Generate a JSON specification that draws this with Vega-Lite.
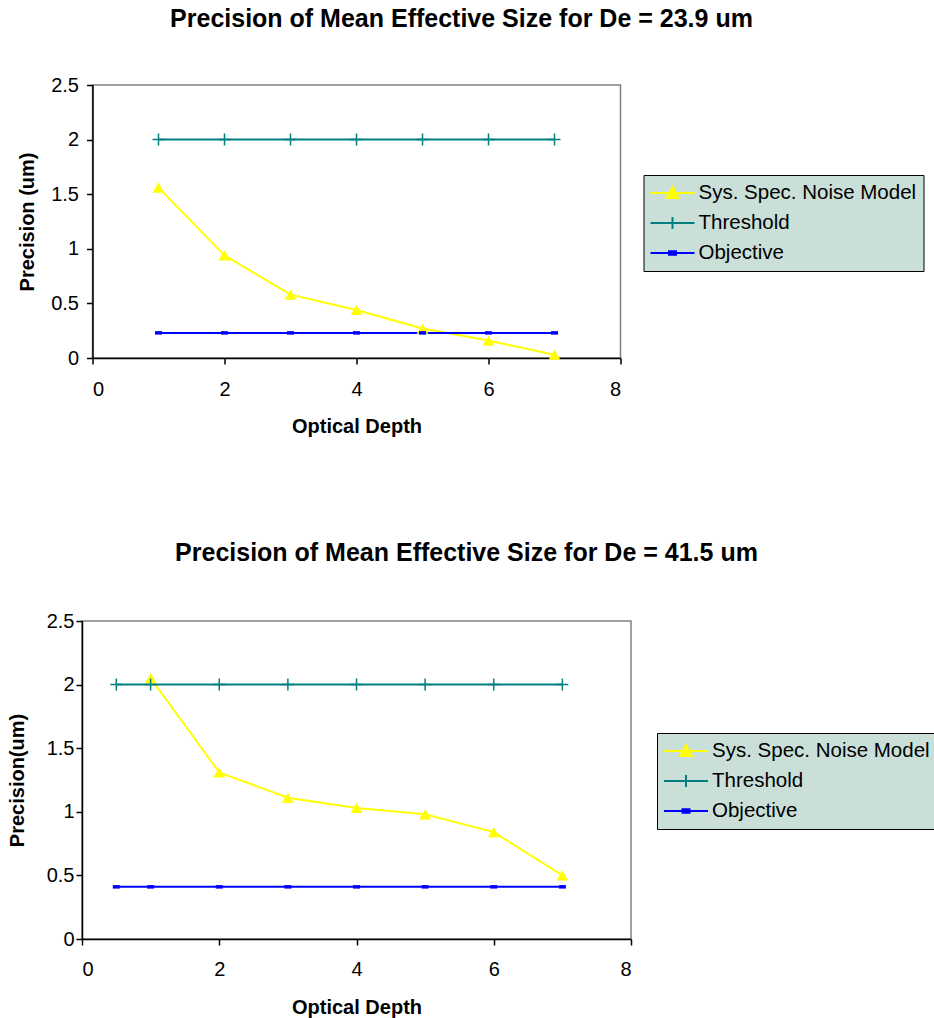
{
  "$schema": "https://vega.github.io/schema/vega-lite/v6.json",
  "background": "white",
  "padding": {"top": 6, "left": 6, "right": 0, "bottom": 0},
  "config": {
    "font": "Liberation Sans",
    "view": {"stroke": "#808080", "strokeWidth": 1.5},
    "axis": {"grid": false, "domainColor": "black", "domainWidth": 1.5, "tickColor": "black", "tickWidth": 1.5, "tickSize": 6, "labelFontSize": 20, "labelColor": "black", "titleFontSize": 20, "titleFontWeight": "bold", "titleColor": "black"},
    "legend": {"fillColor": "#c9dfd7", "strokeColor": "black", "strokeWidth": 1, "padding": 7, "labelFontSize": 20.5, "labelColor": "black", "labelLimit": 400, "symbolStrokeWidth": 2, "symbolSize": 400, "symbolOffset": 11, "labelOffset": 15, "rowPadding": 8},
    "title": {"fontSize": 25, "fontWeight": "bold", "color": "black", "anchor": "middle", "baseline": "alphabetic"}
  },
  "datasets": {
    "top": [
      {"series": "Sys. Spec. Noise Model", "x": 1, "y": 1.56},
      {"series": "Sys. Spec. Noise Model", "x": 2, "y": 0.94},
      {"series": "Sys. Spec. Noise Model", "x": 3, "y": 0.58},
      {"series": "Sys. Spec. Noise Model", "x": 4, "y": 0.44},
      {"series": "Sys. Spec. Noise Model", "x": 5, "y": 0.27},
      {"series": "Sys. Spec. Noise Model", "x": 6, "y": 0.16},
      {"series": "Sys. Spec. Noise Model", "x": 7, "y": 0.03},
      {"series": "Threshold", "x": 1, "y": 2},
      {"series": "Threshold", "x": 2, "y": 2},
      {"series": "Threshold", "x": 3, "y": 2},
      {"series": "Threshold", "x": 4, "y": 2},
      {"series": "Threshold", "x": 5, "y": 2},
      {"series": "Threshold", "x": 6, "y": 2},
      {"series": "Threshold", "x": 7, "y": 2},
      {"series": "Objective", "x": 1, "y": 0.23},
      {"series": "Objective", "x": 2, "y": 0.23},
      {"series": "Objective", "x": 3, "y": 0.23},
      {"series": "Objective", "x": 4, "y": 0.23},
      {"series": "Objective", "x": 5, "y": 0.23},
      {"series": "Objective", "x": 6, "y": 0.23},
      {"series": "Objective", "x": 7, "y": 0.23}
    ],
    "bottom": [
      {"series": "Sys. Spec. Noise Model", "x": 1, "y": 2.05},
      {"series": "Sys. Spec. Noise Model", "x": 2, "y": 1.31},
      {"series": "Sys. Spec. Noise Model", "x": 3, "y": 1.11},
      {"series": "Sys. Spec. Noise Model", "x": 4, "y": 1.03},
      {"series": "Sys. Spec. Noise Model", "x": 5, "y": 0.98},
      {"series": "Sys. Spec. Noise Model", "x": 6, "y": 0.84},
      {"series": "Sys. Spec. Noise Model", "x": 7, "y": 0.5},
      {"series": "Threshold", "x": 0.5, "y": 2},
      {"series": "Threshold", "x": 1, "y": 2},
      {"series": "Threshold", "x": 2, "y": 2},
      {"series": "Threshold", "x": 3, "y": 2},
      {"series": "Threshold", "x": 4, "y": 2},
      {"series": "Threshold", "x": 5, "y": 2},
      {"series": "Threshold", "x": 6, "y": 2},
      {"series": "Threshold", "x": 7, "y": 2},
      {"series": "Objective", "x": 0.5, "y": 0.41},
      {"series": "Objective", "x": 1, "y": 0.41},
      {"series": "Objective", "x": 2, "y": 0.41},
      {"series": "Objective", "x": 3, "y": 0.41},
      {"series": "Objective", "x": 4, "y": 0.41},
      {"series": "Objective", "x": 5, "y": 0.41},
      {"series": "Objective", "x": 6, "y": 0.41},
      {"series": "Objective", "x": 7, "y": 0.41}
    ]
  },
  "bounds": "flush",
  "center": true,
  "spacing": 263,
  "resolve": {
    "scale": {"color": "independent"},
    "legend": {"color": "independent"}
  },
  "vconcat": [
    {
      "width": 528,
      "height": 273,
      "title": {"text": "Precision of Mean Effective Size for De = 23.9 um", "dx": 105, "offset": 43},
      "data": {"name": "top"},
      "encoding": {
        "x": {"field": "x", "type": "quantitative", "scale": {"domain": [0, 8]}, "axis": {"values": [0, 2, 4, 6, 8], "title": "Optical Depth", "labelPadding": 15, "titlePadding": 17}},
        "y": {"field": "y", "type": "quantitative", "scale": {"domain": [0, 2.5]}, "axis": {"values": [0, 0.5, 1, 1.5, 2, 2.5], "format": "~g", "title": "Precision (um)", "labelPadding": 8, "titlePadding": 13}}
      },
      "layer": [
        {"mark": {"type": "line", "strokeWidth": 2},
          "encoding": {"color": {"field": "series", "type": "nominal", "title": null,
            "scale": {"domain": ["Sys. Spec. Noise Model", "Threshold", "Objective"], "range": ["#ffff00", "#008080", "#0000ff"]},
            "legend": {"orient": "none", "legendX": 551, "legendY": 90,
              "encode": {"symbols": {"update": {
                "shape": {"signal": "datum.value === 'Threshold' ? 'M-2.2,0H2.2M0,-0.6V0.6' : datum.value === 'Objective' ? 'M-2.2,0H2.2M-0.35,-0.18H0.35V0.18H-0.35Z' : 'M-2.2,0H2.2M0,-0.6L0.6,0.5L-0.6,0.5Z'"},
                "fill": {"signal": "datum.value === 'Threshold' ? '#008080' : datum.value === 'Objective' ? '#0000ff' : '#ffff00'"},
                "stroke": {"signal": "datum.value === 'Threshold' ? '#008080' : datum.value === 'Objective' ? '#0000ff' : '#ffff00'"},
                "strokeWidth": {"value": 2},
                "opacity": {"value": 1}
              }}}}}}},
        {"transform": [{"filter": "datum.series == 'Sys. Spec. Noise Model'"}], "mark": {"type": "point", "shape": "triangle-up", "filled": true, "color": "#ffff00", "size": 140, "opacity": 1}, "encoding": {}},
        {"transform": [{"filter": "datum.series == 'Threshold'"}], "mark": {"type": "point", "shape": "M-1,0H1M0,-1V1", "filled": false, "stroke": "#008080", "strokeWidth": 1.5, "size": 144, "opacity": 1}, "encoding": {}},
        {"transform": [{"filter": "datum.series == 'Objective'"}], "mark": {"type": "point", "shape": "M-1,-0.5H1V0.5H-1Z", "filled": true, "color": "#0000ff", "size": 49, "opacity": 1}, "encoding": {}}
      ]
    },
    {
      "width": 549,
      "height": 318,
      "title": {"text": "Precision of Mean Effective Size for De = 41.5 um", "dx": 110, "offset": 45},
      "data": {"name": "bottom"},
      "encoding": {
        "x": {"field": "x", "type": "quantitative", "scale": {"domain": [0, 8]}, "axis": {"values": [0, 2, 4, 6, 8], "title": "Optical Depth", "labelPadding": 14, "titlePadding": 18}},
        "y": {"field": "y", "type": "quantitative", "scale": {"domain": [0, 2.5]}, "axis": {"values": [0, 0.5, 1, 1.5, 2, 2.5], "format": "~g", "title": "Precision(um)", "labelPadding": 2, "titlePadding": 19}}
      },
      "layer": [
        {"mark": {"type": "line", "strokeWidth": 2},
          "encoding": {"color": {"field": "series", "type": "nominal", "title": null,
            "scale": {"domain": ["Sys. Spec. Noise Model", "Threshold", "Objective"], "range": ["#ffff00", "#008080", "#0000ff"]},
            "legend": {"orient": "none", "legendX": 575, "legendY": 112,
              "encode": {"symbols": {"update": {
                "shape": {"signal": "datum.value === 'Threshold' ? 'M-2.2,0H2.2M0,-0.6V0.6' : datum.value === 'Objective' ? 'M-2.2,0H2.2M-0.35,-0.18H0.35V0.18H-0.35Z' : 'M-2.2,0H2.2M0,-0.6L0.6,0.5L-0.6,0.5Z'"},
                "fill": {"signal": "datum.value === 'Threshold' ? '#008080' : datum.value === 'Objective' ? '#0000ff' : '#ffff00'"},
                "stroke": {"signal": "datum.value === 'Threshold' ? '#008080' : datum.value === 'Objective' ? '#0000ff' : '#ffff00'"},
                "strokeWidth": {"value": 2},
                "opacity": {"value": 1}
              }}}}}}},
        {"transform": [{"filter": "datum.series == 'Sys. Spec. Noise Model'"}], "mark": {"type": "point", "shape": "triangle-up", "filled": true, "color": "#ffff00", "size": 140, "opacity": 1}, "encoding": {}},
        {"transform": [{"filter": "datum.series == 'Threshold'"}], "mark": {"type": "point", "shape": "M-1,0H1M0,-1V1", "filled": false, "stroke": "#008080", "strokeWidth": 1.5, "size": 144, "opacity": 1}, "encoding": {}},
        {"transform": [{"filter": "datum.series == 'Objective'"}], "mark": {"type": "point", "shape": "M-1,-0.5H1V0.5H-1Z", "filled": true, "color": "#0000ff", "size": 49, "opacity": 1}, "encoding": {}}
      ]
    }
  ]
}
